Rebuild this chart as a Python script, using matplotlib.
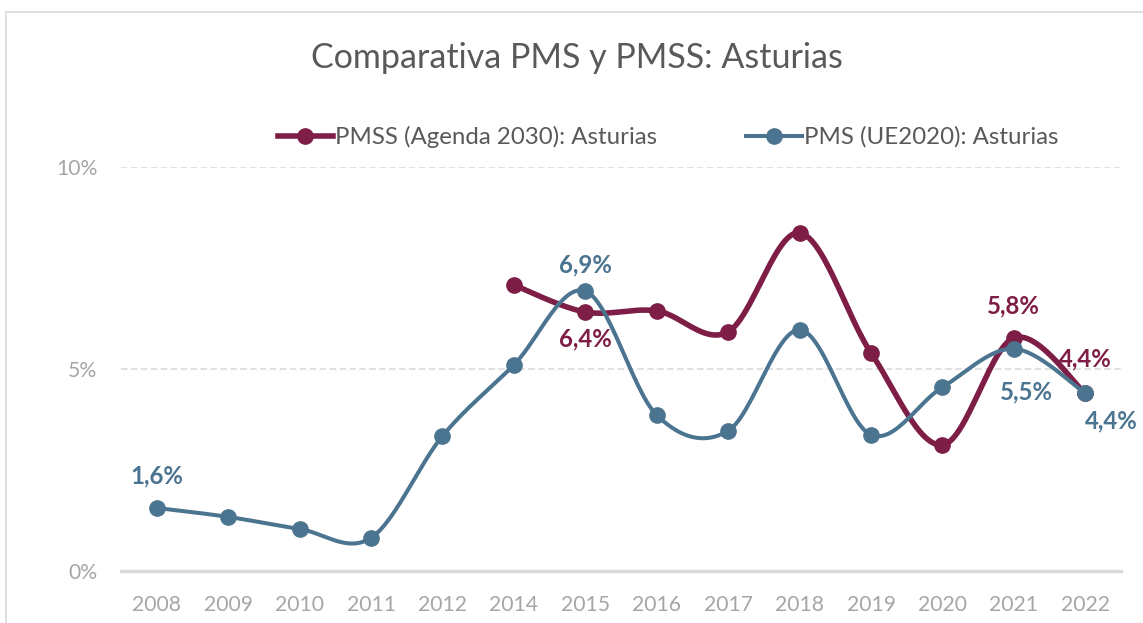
import matplotlib.pyplot as plt
import numpy as np
from matplotlib.lines import Line2D
from matplotlib.patches import Rectangle

years = ["2008", "2009", "2010", "2011", "2012", "2014", "2015",
         "2016", "2017", "2018", "2019", "2020", "2021", "2022"]
pms = [1.56, 1.34, 1.04, 0.82, 3.34, 5.10, 6.93, 3.86, 3.47, 5.97, 3.37, 4.55, 5.50, 4.40]
pmss = [None, None, None, None, None, 7.08, 6.41, 6.44, 5.92, 8.37, 5.40, 3.12, 5.77, 4.40]

pms_labels = {0: "1,6%", 6: "6,9%", 12: "5,5%", 13: "4,4%"}
pmss_labels = {6: "6,4%", 12: "5,8%", 13: "4,4%"}

red = "#7E1E46"
blue = "#4B7490"
grey_txt = "#A6A6A6"

plt.rcParams["font.family"] = ["Lato", "DejaVu Sans"]


def smooth(xs, ys, n=30):
    # cubic bezier through the points, excel-like smoothing
    px, py = [], []
    m = len(xs)
    for i in range(m - 1):
        p0 = np.array([xs[max(i - 1, 0)], ys[max(i - 1, 0)]])
        p1 = np.array([xs[i], ys[i]])
        p2 = np.array([xs[i + 1], ys[i + 1]])
        p3 = np.array([xs[min(i + 2, m - 1)], ys[min(i + 2, m - 1)]])
        c1 = p1 + (p2 - p0) / 6
        c2 = p2 - (p3 - p1) / 6
        t = np.linspace(0, 1, n)[:, None]
        seg = ((1 - t) ** 3) * p1 + 3 * ((1 - t) ** 2) * t * c1 + 3 * (1 - t) * t ** 2 * c2 + t ** 3 * p2
        px.extend(seg[:, 0])
        py.extend(seg[:, 1])
    return np.array(px), np.array(py)


fig = plt.figure(figsize=(11.43, 6.23), dpi=100)
fig.patches.append(Rectangle((6 / 1143, -0.1), 1.2, (623 - 12) / 623 + 0.1,
                             transform=fig.transFigure, fill=False,
                             edgecolor="#D9D9D9", linewidth=1.2))

ax = fig.add_axes([121 / 1143, 52 / 623, 1000 / 1143, 404 / 623])
x = np.arange(len(years))

xr = [i for i, v in enumerate(pmss) if v is not None]
yr = [pmss[i] for i in xr]
sx, sy = smooth(xr, yr)
ax.plot(sx, sy, color=red, linewidth=4.0, solid_capstyle="round", zorder=3)
ax.plot(xr, yr, "o", color=red, markersize=11, zorder=3)

sx, sy = smooth(list(x), pms)
ax.plot(sx, sy, color=blue, linewidth=2.9, solid_capstyle="round", zorder=4)
ax.plot(x, pms, "o", color=blue, markersize=11, zorder=4)

pms_off = {0: (0, 23), 6: (0, 19), 12: (9, -31), 13: (19, -20)}
pmss_off = {6: (0, -19), 12: (0, 23), 13: (0, 25)}
for i, txt in pms_labels.items():
    ax.annotate(txt, (x[i], pms[i]), xytext=pms_off[i], textcoords="offset points",
                ha="center", va="center", color=blue, fontsize=17.3, fontweight="bold")
for i, txt in pmss_labels.items():
    ax.annotate(txt, (x[i], pmss[i]), xytext=pmss_off[i], textcoords="offset points",
                ha="center", va="center", color=red, fontsize=17.3, fontweight="bold")

ax.set_xlim(-0.5, len(years) - 0.5)
ax.set_ylim(0, 10)
ax.set_xticks(x)
ax.set_xticklabels(years)
ax.set_yticks([0, 5, 10])
ax.set_yticklabels(["0%", "5%", "10%"])
ax.tick_params(length=0, labelsize=15.2, colors=grey_txt)
ax.tick_params(axis="x", pad=17)
ax.tick_params(axis="y", pad=17)
for s in ["top", "right", "left"]:
    ax.spines[s].set_visible(False)
ax.spines["bottom"].set_color("#D9D9D9")
ax.spines["bottom"].set_linewidth(2.4)
ax.grid(axis="y", color="#D9D9D9", linestyle=(0, (4.3, 2.2)), linewidth=1.1)
ax.set_axisbelow(True)

fig.text(577 / 1143, 1 - 58 / 623, "Comparativa PMS y PMSS: Asturias", ha="center", va="center",
         fontsize=24.5, color="#595959")

handles = [
    Line2D([], [], color=red, linewidth=4.0, marker="o", markersize=11),
    Line2D([], [], color=blue, linewidth=2.9, marker="o", markersize=11),
]
fig.legend(handles, ["PMSS (Agenda 2030): Asturias", "PMS (UE2020): Asturias"],
           loc="center", bbox_to_anchor=(668 / 1143, 1 - 137 / 623), ncol=2, frameon=False,
           fontsize=17.3, handlelength=2.3, handletextpad=0.1, columnspacing=3.7,
           labelcolor="#595959")

fig.savefig("out.png", dpi=100)
